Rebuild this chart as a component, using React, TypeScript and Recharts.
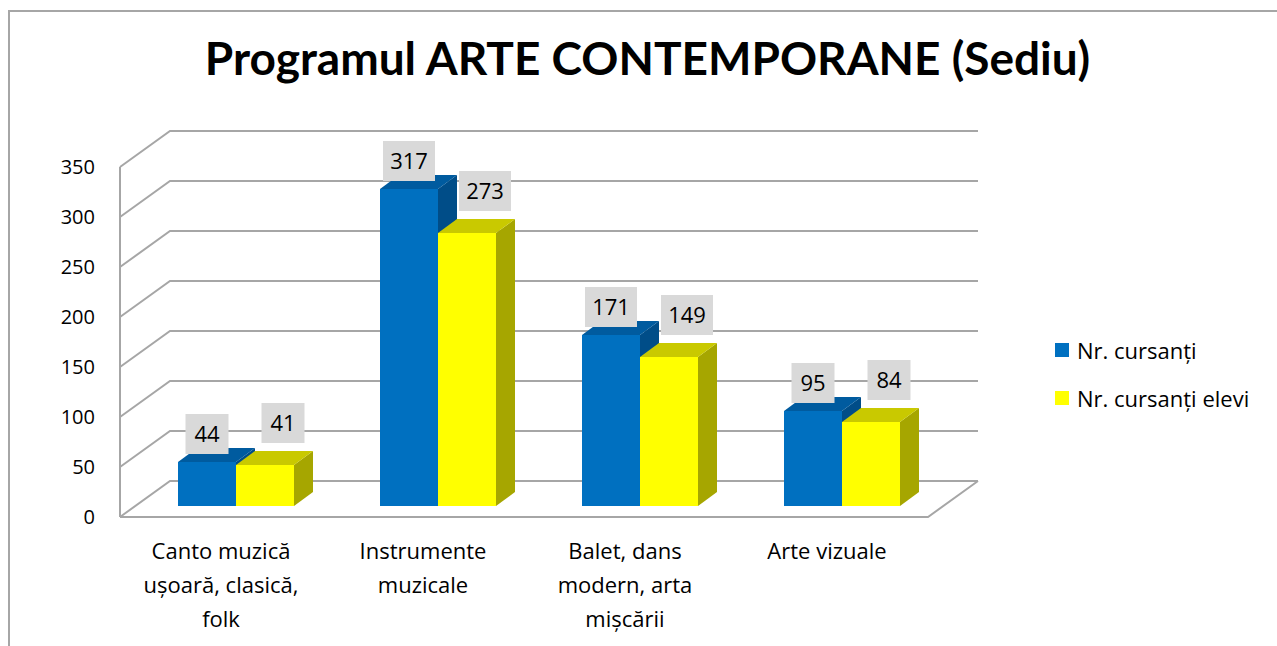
import { BarChart, Bar, XAxis, YAxis, CartesianGrid, Legend, LabelList } from 'recharts'

const categories = [
  'Canto muzică\nușoară, clasică,\nfolk',
  'Instrumente\nmuzicale',
  'Balet, dans\nmodern, arta\nmișcării',
  'Arte vizuale',
]
const cursanti = [44, 317, 171, 95]
const cursantiElevi = [41, 273, 149, 84]
const yTicks = [0, 50, 100, 150, 200, 250, 300, 350]
const seriesNames = ['Nr. cursanți', 'Nr. cursanți elevi']

const data = categories.map((name, i) => ({
  name,
  cursanti: cursanti[i],
  elevi: cursantiElevi[i],
}))

const FONT = '"Open Sans", Lato, sans-serif'
const TITLE_FONT = 'Lato, "Open Sans", sans-serif'
const W = 1277
const H = 646
const XAXIS_H = 30
const MARGIN = { top: 167, right: 349, bottom: 129 - XAXIS_H, left: 60 }
const PLOT_BOTTOM = 517
const GRID = '#a6a6a6'

// depth of the 3d box and where bars sit in it
const DX = 50
const DY = 36
const BAR_DX = 15
const BAR_DY = 11
const SIDE_DX = 19
const SIDE_DY = 14

const BLUE = { front: '#0070c0', top: '#005b9f', side: '#004d88' }
const YELLOW = { front: '#ffff00', top: '#c9c900', side: '#a6a600' }

const renderGridLine = (props: any) => {
  const { x1, y1, x2, index } = props
  const isFloor = Math.abs(y1 - PLOT_BOTTOM) < 1
  return (
    <g key={`grid-${index}`}>
      <polyline
        points={`${x1},${y1} ${x1 + DX},${y1 - DY} ${x2 + DX},${y1 - DY}`}
        fill="none"
        stroke={GRID}
        strokeWidth={2}
      />
      {isFloor && (
        <polyline
          points={`${x1},${y1} ${x2},${y1} ${x2 + DX},${y1 - DY}`}
          fill="none"
          stroke={GRID}
          strokeWidth={2}
        />
      )}
    </g>
  )
}

const bar3d = (c: { front: string; top: string; side: string }) => (props: any) => {
  const { x, y, width, height } = props
  if (!height) return <g />
  const fx = x + BAR_DX
  const fy = y - BAR_DY
  const bx = fx + SIDE_DX
  const by = fy - SIDE_DY
  return (
    <g>
      <rect x={fx} y={fy} width={width} height={height} fill={c.front} />
      <polygon
        points={`${fx + width},${fy} ${bx + width},${by} ${bx + width},${by + height} ${fx + width},${fy + height}`}
        fill={c.side}
      />
      <polygon points={`${fx},${fy} ${bx},${by} ${bx + width},${by} ${fx + width},${fy}`} fill={c.top} />
    </g>
  )
}

const makeLabel = (shiftX: number, gap: number) => (props: any) => {
  const { x, y, width, value } = props
  const text = String(value)
  const bw = text.length > 2 ? 52 : 43
  const bh = 40
  const cx = Number(x) + BAR_DX + Number(width) / 2 + shiftX
  const bottom = Number(y) - BAR_DY - gap
  return (
    <g>
      <rect x={cx - bw / 2} y={bottom - bh} width={bw} height={bh} fill="#d9d9d9" />
      <text
        x={cx}
        y={bottom - bh / 2 + 8}
        textAnchor="middle"
        fontFamily={FONT}
        fontSize={22}
        fill="#000"
      >
        {text}
      </text>
    </g>
  )
}

const CategoryTick = ({ x, y, payload }: any) => {
  const lines = String(payload.value).split('\n')
  return (
    <text x={x} y={y + 42} textAnchor="middle" fontFamily={FONT} fontSize={22} fill="#000">
      {lines.map((l, i) => (
        <tspan key={i} x={x} dy={i === 0 ? 0 : 34}>
          {l}
        </tspan>
      ))}
    </text>
  )
}

const renderLegend = () => (
  <div style={{ fontFamily: FONT, fontSize: 22, color: '#000', whiteSpace: 'nowrap' }}>
    {seriesNames.map((name, i) => (
      <div key={name} style={{ display: 'flex', alignItems: 'center', height: 48 }}>
        <span
          style={{
            display: 'inline-block',
            width: 14,
            height: 14,
            background: i === 0 ? BLUE.front : YELLOW.front,
            marginRight: 8,
          }}
        />
        {name}
      </div>
    ))}
  </div>
)

export default function App() {
  return (
    <div style={{ position: 'absolute', left: 0, top: 0, width: W, height: H, background: '#fff', overflow: 'hidden' }}>
      <div
        style={{
          position: 'absolute',
          left: 8,
          top: 10,
          width: W,
          height: H,
          borderLeft: `2px solid ${GRID}`,
          borderTop: `2px solid ${GRID}`,
        }}
      />
      <div
        style={{
          position: 'absolute',
          left: 9,
          top: 28,
          width: W,
          textAlign: 'center',
          fontFamily: TITLE_FONT,
          fontWeight: 700,
          fontSize: 46,
          color: '#000',
          lineHeight: '60px',
        }}
      >
        Programul ARTE CONTEMPORANE (Sediu)
      </div>
      <div style={{ position: 'absolute', left: 0, top: 0 }}>
        <BarChart width={W} height={H} data={data} margin={MARGIN} barGap={0} barCategoryGap={0}>
          <CartesianGrid vertical={false} horizontal={renderGridLine} />
          <XAxis
            dataKey="name"
            height={XAXIS_H}
            axisLine={false}
            tickLine={false}
            tickSize={0}
            tickMargin={0}
            interval={0}
            tick={<CategoryTick />}
          />
          <YAxis
            width={60}
            domain={[0, 350]}
            ticks={yTicks}
            interval={0}
            axisLine={{ stroke: GRID, strokeWidth: 2 }}
            tickLine={false}
            tickSize={0}
            tickMargin={25}
            tick={{ fontFamily: FONT, fontSize: 20, fill: '#000' }}
          />
          <Legend
            layout="vertical"
            align="center"
            verticalAlign="middle"
            content={renderLegend}
            wrapperStyle={{ left: 1055, top: 326, width: 222 }}
          />
          <Bar dataKey="cursanti" name={seriesNames[0]} barSize={58} shape={bar3d(BLUE)} isAnimationActive={false}>
            <LabelList dataKey="cursanti" content={makeLabel(0, 8)} />
          </Bar>
          <Bar dataKey="elevi" name={seriesNames[1]} barSize={58} shape={bar3d(YELLOW)} isAnimationActive={false}>
            <LabelList dataKey="elevi" content={makeLabel(18, 22)} />
          </Bar>
        </BarChart>
      </div>
    </div>
  )
}
